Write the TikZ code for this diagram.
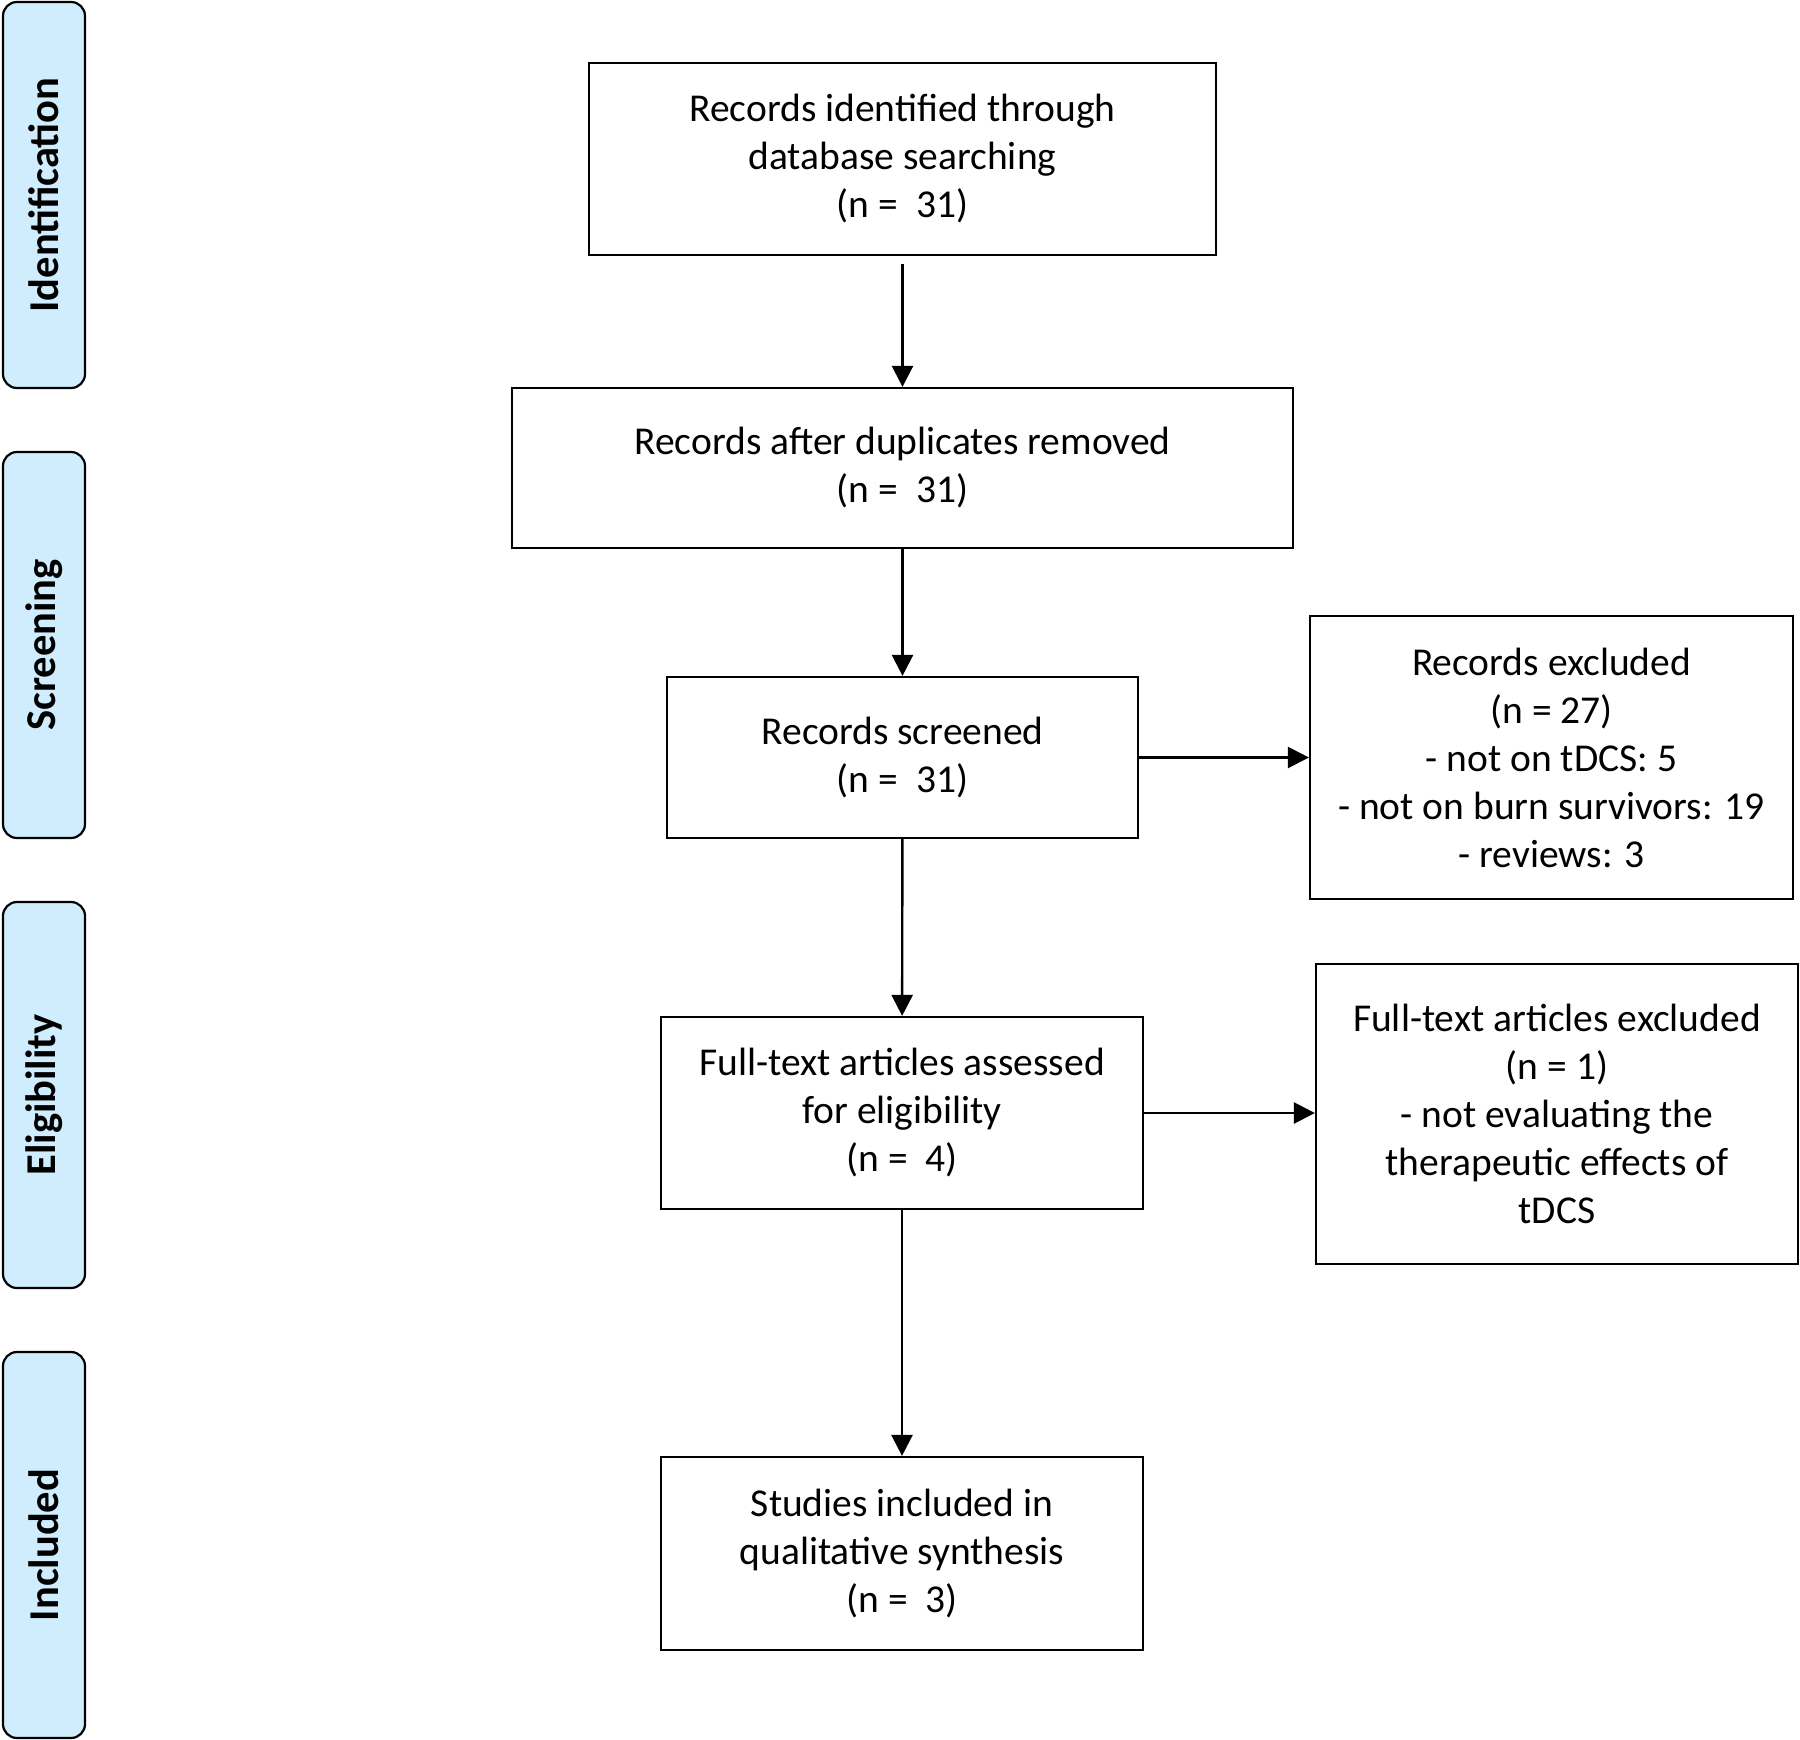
\documentclass[tikz,border=0pt]{standalone}
\usepackage{fontspec}
\setmainfont{Carlito}
\usepackage{xcolor}
\usepackage{tikz}
\usetikzlibrary{arrows.meta,positioning}
\definecolor{stagefill}{HTML}{CFEDFC}
\newcommand{\flowbox}[5]{
    \node[
        draw=black,
        line width=2.2pt,
        minimum width=#3pt,
        minimum height=#4pt,
        align=center,
        font=\fontsize{39.5}{48}\selectfont
    ] (#1) at (#2) {#5};
}
\newcommand{\stagebox}[3]{
    \node[
        draw=black,
        fill=stagefill,
        line width=2.2pt,
        rounded corners=14pt,
        minimum width=386pt,
        minimum height=82pt,
        rotate=90,
        font=\fontsize{42.5}{46}\selectfont\bfseries
    ] (#1) at (#2) {#3};
}

\begin{document}
\begin{tikzpicture}[x=1pt,y=-1pt,>={Triangle[length=21pt,width=21pt]}]
    \useasboundingbox (0,0) rectangle (1800,1740);
    \stagebox{sident}{44,195}{Identification}
    \stagebox{sscreen}{44,645}{Screening}
    \stagebox{selig}{44,1095}{Eligibility}
    \stagebox{sincl}{44,1545}{Included}

    \flowbox{ident}{902.5,159}{627}{192}{Records identified through\\database searching\\(n = ~31)}
    \flowbox{dups}{902.5,468}{781}{160}{Records after duplicates removed\\(n = ~31)}
    \flowbox{screen}{902.5,757.5}{471}{161}{Records screened\\(n = ~31)}
    \flowbox{rexcl}{1551.5,757.5}{483}{283}{Records excluded\\(n = 27)\\- not on tDCS: 5\\- not on burn survivors: 19\\- reviews: 3}
    \flowbox{full}{902,1113}{482}{192}{Full-text articles assessed\\for eligibility\\(n = ~4)}
    \flowbox{fexcl}{1557,1114}{482}{300}{Full-text articles excluded\\(n = 1)\\- not evaluating the\\therapeutic effects of\\tDCS}
    \flowbox{incl}{902,1553.5}{482}{193}{Studies included in\\qualitative synthesis\\(n = ~3)}

    \draw[->,line width=2.4pt] ([yshift=-8pt]ident.south) -- (dups.north);
    \draw[->,line width=2.4pt] (dups) -- (screen);
    \draw[->,line width=2.4pt] (screen) -- (full);
    \draw[->,line width=2.4pt] (full) -- (incl);
    \draw[->,line width=2.4pt] (screen) -- (rexcl);
    \draw[->,line width=2.4pt] (full) -- (full -| fexcl.west);
\end{tikzpicture}
\end{document}
